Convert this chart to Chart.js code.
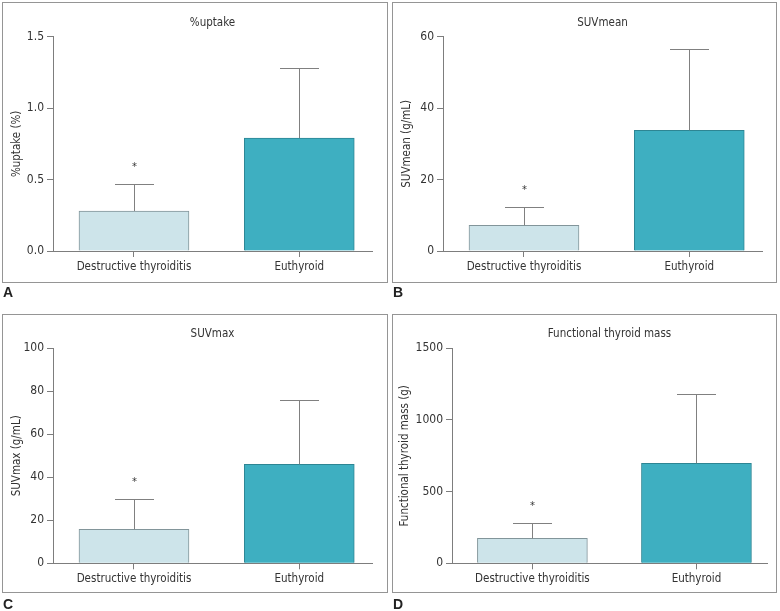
<!DOCTYPE html>
<html><head><meta charset="utf-8">
<script src="https://cdn.jsdelivr.net/npm/chart.js@4"></script>
<style>
html,body{margin:0;padding:0;background:#fff;width:780px;height:611px;overflow:hidden;position:relative}
.box{position:absolute;border:1px solid #959595;box-sizing:border-box;pointer-events:none}
canvas{position:absolute}
.lbl{position:absolute;font:bold 14px "Liberation Sans Narrow","Liberation Sans",Arial,sans-serif;color:#222;line-height:14px}
</style></head>
<body>
<canvas id="cA" width="390" height="305" style="left:0;top:0"></canvas>
<canvas id="cB" width="390" height="305" style="left:390px;top:0"></canvas>
<canvas id="cC" width="390" height="305" style="left:0;top:305px"></canvas>
<canvas id="cD" width="390" height="305" style="left:390px;top:305px"></canvas>
<div class="box" style="left:2px;top:2px;width:386px;height:281px"></div>
<div class="box" style="left:392px;top:2px;width:385px;height:281px"></div>
<div class="box" style="left:2px;top:314px;width:386px;height:279px"></div>
<div class="box" style="left:392px;top:314px;width:385px;height:279px"></div>
<div class="lbl" style="left:3px;top:285px">A</div>
<div class="lbl" style="left:393px;top:285px">B</div>
<div class="lbl" style="left:3px;top:597px">C</div>
<div class="lbl" style="left:393px;top:597px">D</div>
<script>
// ---- data ----
const categories = ['Destructive thyroiditis', 'Euthyroid'];
const sigMarks = ['*', ''];

const uptakeMean = [0.28, 0.79];
const uptakeSD = [0.19, 0.49];
const uptakeTicks = [0, 0.5, 1.0, 1.5];

const suvMeanMean = [7.2, 33.8];
const suvMeanSD = [5.1, 22.8];
const suvMeanTicks = [0, 20, 40, 60];

const suvMaxMean = [15.8, 46.0];
const suvMaxSD = [14.1, 30.1];
const suvMaxTicks = [0, 20, 40, 60, 80, 100];

const massMean = [174, 698];
const massSD = [105, 485];
const massTicks = [0, 500, 1000, 1500];

const panelTitles = ['%uptake', 'SUVmean', 'SUVmax', 'Functional thyroid mass'];
const yTitles = ['%uptake (%)', 'SUVmean (g/mL)', 'SUVmax (g/mL)', 'Functional thyroid mass (g)'];

// ---- styles ----
const FONT = '"Liberation Sans Narrow", "DejaVu Sans Condensed", Arial, sans-serif';
const TXT = '#333333';
const AXIS = '#7d7d7d';
const barFill = ['#cde4ea', '#3eafc1'];
const barEdge = ['#82959a', '#2d8593'];

const panelTitlePlugin = {
  id: 'panelTitle',
  afterDraw(chart, args, o) {
    const {ctx, chartArea: a} = chart;
    ctx.save();
    ctx.font = '11.5px ' + FONT;
    ctx.fillStyle = TXT;
    ctx.textAlign = 'center';
    ctx.textBaseline = 'middle';
    ctx.fillText(o.text, (a.left + a.right) / 2, a.top - 14);
    ctx.restore();
  }
};

const errorBarPlugin = {
  id: 'errorBars',
  afterDatasetsDraw(chart, args, o) {
    const {ctx} = chart;
    const ys = chart.scales.y;
    const meta = chart.getDatasetMeta(0);
    ctx.save();
    ctx.strokeStyle = '#808080';
    ctx.lineWidth = 1;
    meta.data.forEach((bar, i) => {
      const top = Math.round(ys.getPixelForValue(o.mean[i] + o.sd[i])) + 0.5;
      const x = Math.round(bar.x) + 0.5;
      ctx.beginPath();
      ctx.moveTo(x, bar.y);
      ctx.lineTo(x, top);
      ctx.moveTo(x - 19.5, top);
      ctx.lineTo(x + 19.5, top);
      ctx.stroke();
      if (o.marks[i]) {
        ctx.fillStyle = TXT;
        ctx.font = '11px ' + FONT;
        ctx.textAlign = 'center';
        ctx.textBaseline = 'middle';
        ctx.fillText(o.marks[i], x, top - 17);
      }
    });
    ctx.restore();
  }
};

function makeChart(id, mean, sd, tickVals, decimals, title, yTitle, lay) {
  return new Chart(document.getElementById(id), {
    type: 'bar',
    data: {
      datasets: [{
        data: mean.map((v, i) => ({x: i, y: v})),
        backgroundColor: barFill,
        borderColor: barEdge,
        borderWidth: 1,
        borderSkipped: 'start',
        barThickness: 110
      }]
    },
    options: {
      responsive: false,
      animation: false,
      events: [],
      layout: {padding: {left: 0, right: lay.padRight, top: lay.padTop, bottom: lay.padBottom}},
      plugins: {
        legend: {display: false},
        tooltip: {enabled: false},
        title: {display: false},
        panelTitle: {text: title},
        errorBars: {mean: mean, sd: sd, marks: sigMarks}
      },
      scales: {
        x: {
          type: 'linear',
          min: lay.xmin,
          max: lay.xmax,
          offset: false,
          afterFit: s => { s.height = 30; },
          afterBuildTicks: s => { s.ticks = categories.map((c, i) => ({value: i})); },
          grid: {display: true, offset: false, drawOnChartArea: false, drawTicks: true, tickLength: 6, color: AXIS},
          border: {display: true, color: AXIS, width: 1},
          ticks: {
            autoSkip: false, maxRotation: 0, padding: 3, color: TXT,
            font: {family: FONT, size: 11.5},
            callback: v => categories[v]
          }
        },
        y: {
          type: 'linear',
          min: tickVals[0],
          max: tickVals[tickVals.length - 1],
          afterFit: s => { s.width = lay.yw; },
          afterBuildTicks: s => { s.ticks = tickVals.map(v => ({value: v})); },
          grid: {display: true, drawOnChartArea: false, drawTicks: true, tickLength: 6, color: AXIS},
          border: {display: true, color: AXIS, width: 1},
          ticks: {
            padding: 3, color: TXT,
            font: {family: FONT, size: 12},
            callback: v => v.toFixed(decimals)
          },
          title: {
            display: true, text: yTitle, color: TXT,
            font: {family: FONT, size: 11.5},
            padding: {top: lay.yTitlePad, bottom: 0}
          }
        }
      }
    },
    plugins: [panelTitlePlugin, errorBarPlugin]
  });
}

makeChart('cA', uptakeMean, uptakeSD, uptakeTicks, 1, panelTitles[0], yTitles[0],
  {yw: 53, padRight: 18, padTop: 36.7, padBottom: 24, yTitlePad: 10, xmin: -0.49, xmax: 1.44});
makeChart('cB', suvMeanMean, suvMeanSD, suvMeanTicks, 0, panelTitles[1], yTitles[1],
  {yw: 53, padRight: 18, padTop: 36.7, padBottom: 24, yTitlePad: 10, xmin: -0.49, xmax: 1.44});
makeChart('cC', suvMaxMean, suvMaxSD, suvMaxTicks, 0, panelTitles[2], yTitles[2],
  {yw: 53, padRight: 18, padTop: 43.3, padBottom: 16.7, yTitlePad: 10, xmin: -0.49, xmax: 1.44});
makeChart('cD', massMean, massSD, massTicks, 0, panelTitles[3], yTitles[3],
  {yw: 62, padRight: 13, padTop: 43.3, padBottom: 16.7, yTitlePad: 8, xmin: -0.49, xmax: 1.43});
</script>
</body></html>
